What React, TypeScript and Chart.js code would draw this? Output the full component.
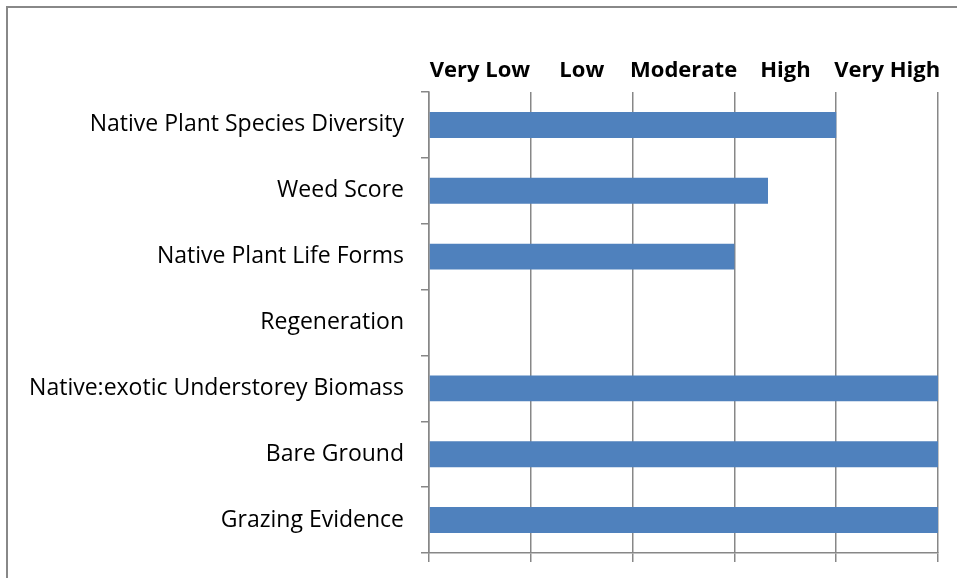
import React, { useEffect, useRef } from "react";
import { Chart, registerables } from "chart.js";

Chart.register(...registerables);

const categories = [
  "Native Plant Species Diversity",
  "Weed Score",
  "Native Plant Life Forms",
  "Regeneration",
  "Native:exotic Understorey Biomass",
  "Bare Ground",
  "Grazing Evidence",
];
const scores = [4, 3.33, 3, 0, 5, 5, 5];
const levelLabels = ["Very Low", "Low", "Moderate", "High", "Very High"];
const scaleMin = 0;
const scaleMax = 5;

const GRID = "#878787";
const BAR = "#4F81BD";
const FONT = "'Open Sans', Lato, sans-serif";

const frame = {
  id: "frame",
  afterDraw(chart: any) {
    const ctx = chart.ctx;
    ctx.save();
    ctx.strokeStyle = "#888888";
    ctx.lineWidth = 2;
    ctx.strokeRect(7, 7, 2000, 2000);
    ctx.restore();
  },
};

export default function App() {
  const ref = useRef<HTMLCanvasElement | null>(null);
  useEffect(() => {
    if (!ref.current) return;
    const chart = new Chart(ref.current, {
      type: "bar",
      data: {
        labels: categories,
        datasets: [
          {
            data: scores,
            backgroundColor: BAR,
            borderWidth: 0,
            barPercentage: 0.394,
            categoryPercentage: 1,
          },
        ],
      },
      options: {
        indexAxis: "y",
        responsive: false,
        animation: false,
        devicePixelRatio: 1,
        layout: { padding: { left: 0, right: 19, top: 0, bottom: 0 } },
        plugins: { legend: { display: false }, tooltip: { enabled: false } },
        scales: {
          x: {
            type: "linear",
            position: "top",
            min: scaleMin,
            max: scaleMax,
            afterFit: (s: any) => {
              s.height = 92;
              s.paddingLeft = 0;
              s.paddingRight = 0;
            },
            border: { display: false },
            grid: { color: GRID, lineWidth: 1.5, drawTicks: false },
            ticks: {
              stepSize: 1,
              autoSkip: false,
              maxRotation: 0,
              labelOffset: 51,
              padding: 8,
              color: "#000",
              font: { family: FONT, size: 22, weight: "bold" },
              callback: (_v: any, i: number) => levelLabels[i] ?? "",
            },
          },
          x2: {
            type: "linear",
            position: "bottom",
            min: scaleMin,
            max: scaleMax,
            afterFit: (s: any) => {
              s.height = 25;
              s.paddingLeft = 0;
              s.paddingRight = 0;
            },
            border: { display: true, color: GRID, width: 1.5 },
            grid: { color: GRID, lineWidth: 1.5, drawOnChartArea: false, drawTicks: true, tickLength: 9 },
            ticks: { stepSize: 1, display: false },
          },
          y: {
            type: "category",
            position: "left",
            afterFit: (s: any) => {
              s.width = 429;
              s.paddingTop = 0;
              s.paddingBottom = 0;
            },
            border: { display: true, color: GRID, width: 1.5 },
            grid: { color: GRID, lineWidth: 1.5, drawOnChartArea: false, drawTicks: true, tickLength: 8, offset: true },
            ticks: {
              padding: 17,
              color: "#000",
              autoSkip: false,
              font: { family: FONT, size: 23 },
            },
          },
        },
      },
      plugins: [frame],
    } as any);
    return () => chart.destroy();
  }, []);
  return (
    <canvas
      ref={ref}
      width={957}
      height={578}
      style={{ position: "fixed", left: 0, top: 0, width: 957, height: 578 }}
    />
  );
}
